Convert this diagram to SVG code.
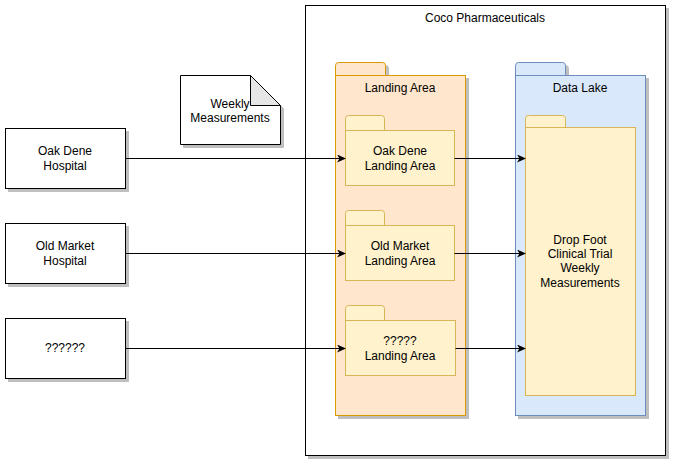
<svg xmlns="http://www.w3.org/2000/svg" width="673" height="464" viewBox="0 0 673 464">
<defs>
<marker id="arr" markerWidth="10" markerHeight="10" refX="8" refY="4" orient="auto" markerUnits="userSpaceOnUse">
<path d="M0,0 L9,4 L0,8 L2.5,4 Z" fill="#000"/>
</marker>
<filter id="sh" x="-10%" y="-10%" width="130%" height="130%">
<feOffset in="SourceAlpha" dx="3" dy="3" result="o"/>
<feFlood flood-color="#000" flood-opacity="0.25"/>
<feComposite in2="o" operator="in" result="s"/>
<feMerge><feMergeNode in="s"/><feMergeNode in="SourceGraphic"/></feMerge>
</filter>
</defs>
<style>
text{font-family:"Liberation Sans",Arial,sans-serif;font-size:12px;fill:#000;text-anchor:middle}
.box{fill:#fff;stroke:#000;stroke-width:1}
.orange{fill:#ffe6cc;stroke:#d79b00;stroke-width:1}
.yellow{fill:#fff2cc;stroke:#d6b656;stroke-width:1}
.blue{fill:#dae8fc;stroke:#6c8ebf;stroke-width:1}
.edge{fill:none;stroke:#000;stroke-width:1;marker-end:url(#arr)}
</style>
<rect width="673" height="464" fill="#fff"/>
<g id="coco">
<rect class="box" x="305.5" y="5.5" width="360" height="450" filter="url(#sh)"/>
<text x="485" y="22">Coco Pharmaceuticals</text>
</g>
<g id="landing-area" filter="url(#sh)">
<path class="orange" d="M335.5,75.5 V65.5 Q335.5,62.5 338.5,62.5 H382.5 Q385.5,62.5 385.5,65.5 V75.5 Z"/>
<rect class="orange" x="335.5" y="75.5" width="130" height="340"/>
</g>
<text x="400" y="92">Landing Area</text>
<g id="data-lake" filter="url(#sh)">
<path class="blue" d="M515.5,75.5 V65.5 Q515.5,62.5 518.5,62.5 H562.5 Q565.5,62.5 565.5,65.5 V75.5 Z"/>
<rect class="blue" x="515.5" y="75.5" width="130" height="340"/>
</g>
<text x="580" y="92">Data Lake</text>
<g id="oak-landing">
<path class="yellow" d="M345.5,130.5 V118.5 Q345.5,115.5 348.5,115.5 H381.5 Q384.5,115.5 384.5,118.5 V130.5 Z"/>
<rect class="yellow" x="345.5" y="130.5" width="109" height="55"/>
<text x="400" y="155">Oak Dene</text>
<text x="400" y="170">Landing Area</text>
</g>
<g id="old-landing">
<path class="yellow" d="M345.5,225.5 V213.5 Q345.5,210.5 348.5,210.5 H381.5 Q384.5,210.5 384.5,213.5 V225.5 Z"/>
<rect class="yellow" x="345.5" y="225.5" width="109" height="55"/>
<text x="400" y="250">Old Market</text>
<text x="400" y="265">Landing Area</text>
</g>
<g id="unk-landing">
<path class="yellow" d="M345.5,320.5 V308.5 Q345.5,305.5 348.5,305.5 H381.5 Q384.5,305.5 384.5,308.5 V320.5 Z"/>
<rect class="yellow" x="345.5" y="320.5" width="110" height="55"/>
<text x="400" y="345">?????</text>
<text x="400" y="360">Landing Area</text>
</g>
<g id="drop-foot">
<path class="yellow" d="M525.5,127.5 V118.5 Q525.5,115.5 528.5,115.5 H562.5 Q565.5,115.5 565.5,118.5 V127.5 Z"/>
<rect class="yellow" x="525.5" y="127.5" width="110" height="268"/>
<text x="580" y="244">Drop Foot</text>
<text x="580" y="258">Clinical Trial</text>
<text x="580" y="272">Weekly</text>
<text x="580" y="287">Measurements</text>
</g>
<g id="oak-hospital">
<rect class="box" x="5.5" y="128.5" width="120" height="60" filter="url(#sh)"/>
<text x="65" y="155">Oak Dene</text>
<text x="65" y="170">Hospital</text>
</g>
<g id="old-hospital">
<rect class="box" x="5.5" y="223.5" width="120" height="60" filter="url(#sh)"/>
<text x="65" y="250">Old Market</text>
<text x="65" y="265">Hospital</text>
</g>
<g id="unknown-hospital">
<rect class="box" x="5.5" y="318.5" width="120" height="60" filter="url(#sh)"/>
<text x="65" y="352">??????</text>
</g>
<g id="weekly-doc">
<path class="box" d="M180.5,75.5 H250.5 L280.5,105.5 V144.5 H180.5 Z" filter="url(#sh)"/>
<path d="M250.5,75.5 V105.5 H280.5 Z" fill="#e6e6e6" stroke="#000" stroke-width="1"/>
<text x="230" y="108">Weekly</text>
<text x="230" y="122">Measurements</text>
</g>
<g id="connectors">
<path class="edge" d="M125.5,158.5 H345"/>
<path class="edge" d="M125.5,253.5 H345"/>
<path class="edge" d="M125.5,348.5 H345"/>
<path class="edge" d="M454.5,158.5 H525"/>
<path class="edge" d="M454.5,253.5 H525"/>
<path class="edge" d="M455.5,348.5 H525"/>
</g>
</svg>
